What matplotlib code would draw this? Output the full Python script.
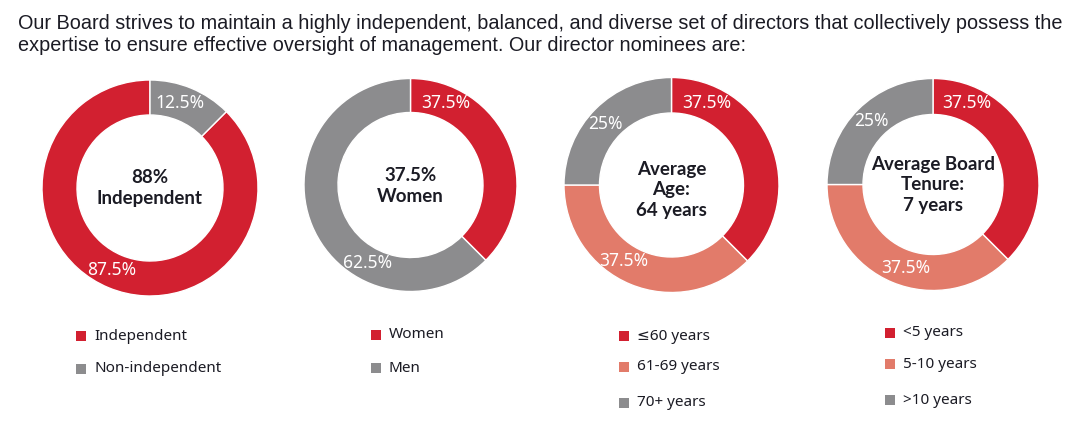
import matplotlib.pyplot as plt
from matplotlib.patches import Rectangle
import numpy as np

# data
indep_labels = ['Independent', 'Non-independent']
indep_vals = [87.5, 12.5]
gender_labels = ['Women', 'Men']
gender_vals = [37.5, 62.5]
age_labels = ['≤60 years', '61-69 years', '70+ years']
age_vals = [37.5, 37.5, 25]
tenure_labels = ['<5 years', '5-10 years', '>10 years']
tenure_vals = [37.5, 37.5, 25]

title = ("Our Board strives to maintain a highly independent, balanced, and diverse set of directors that collectively possess the\n"
         "expertise to ensure effective oversight of management. Our director nominees are:")
centre_texts = ['88%\nIndependent', '37.5%\nWomen', 'Average\nAge:\n64 years', 'Average Board\nTenure:\n7 years']

RED = '#d22030'
GREY = '#8c8c8e'
SALMON = '#e27b6a'
DARK = '#1b1b24'

H = 421
fig = plt.figure(figsize=(10.66, 4.21), dpi=100)
ax = fig.add_axes([0, 0, 1, 1])

FONT = ['Noto Sans', 'DejaVu Sans']
BOLD = ['Lato', 'DejaVu Sans']

# (values, labels, colours, centre, radius, width, counterclock, label angles, centre y, legend x, legend ys)
donuts = [
    (indep_vals, indep_labels, [RED, GREY], (150, 188), 108, 35, True, [245, 70.6], 188, 81, [336, 369]),
    (gender_vals, gender_labels, [RED, GREY], (410.5, 185), 106.5, 34, False, [66.7, 241], 186, 376, [335, 368]),
    (age_vals, age_labels, [RED, SALMON, GREY], (671.5, 185), 107.5, 35.5, False, [66.7, 237.7, 137], 190, 624, [336, 367, 403]),
    (tenure_vals, tenure_labels, [RED, SALMON, GREY], (933, 184.5), 106, 36, False, [67.7, 252, 134], 185, 890, [333, 364, 400]),
]

for i, (vals, labels, cols, c, r, w, ccw, angs, cy, lx, lys) in enumerate(donuts):
    cx, cyy = c[0], H - c[1]
    ax.pie(vals, colors=cols, center=(cx, cyy), radius=r, startangle=90, counterclock=ccw,
           wedgeprops=dict(width=w, edgecolor='white', linewidth=1))
    rl = r - w / 2
    for v, a in zip(vals, angs):
        t = np.deg2rad(a)
        ax.text(cx + rl * np.cos(t), cyy + rl * np.sin(t), f'{v:g}%', color='white',
                fontsize=12.5, ha='center', va='center', family=FONT)
    ax.text(cx, H - cy, centre_texts[i], ha='center', va='center', fontsize=13.5,
            fontweight='bold', color=DARK, family=BOLD, linespacing=1.22)
    for lab, col, ly in zip(labels, cols, lys):
        ax.add_patch(Rectangle((lx - 5, H - ly - 5), 10, 10, color=col, lw=0))
        ax.text(lx + 13, H - ly, lab, ha='left', va='center', fontsize=11, color=DARK, family=FONT)

ax.text(18, H - 14, title, ha='left', va='top', fontsize=14.3, color=DARK,
        family=['Liberation Sans', 'DejaVu Sans'], linespacing=1.2)

ax.set_xlim(0, 1066)
ax.set_ylim(0, H)
ax.set_aspect('equal')
ax.axis('off')
fig.savefig('out.png', dpi=100)
